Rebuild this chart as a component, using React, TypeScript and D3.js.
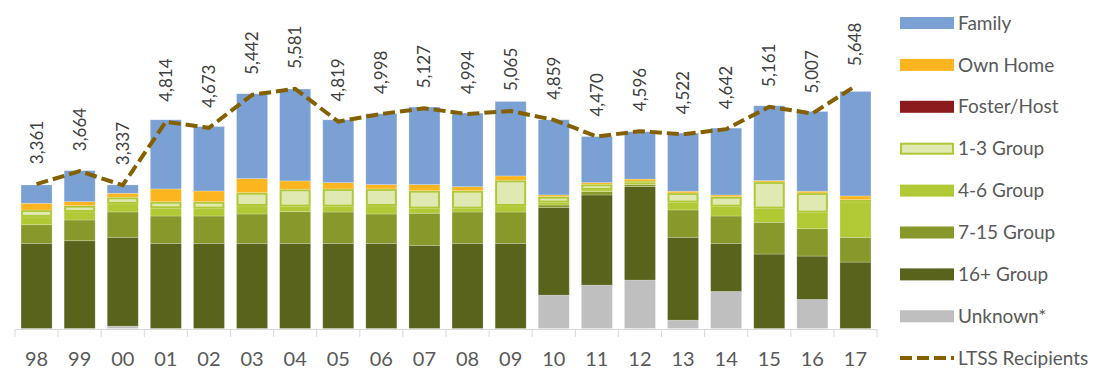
import React from "react";
import * as d3 from "d3";

const years = ["98","99","00","01","02","03","04","05","06","07","08","09","10","11","12","13","14","15","16","17"];
const unknown = [0, 0, 54, 0, 0, 0, 0, 0, 0, 0, 0, 0, 777, 1010, 1127, 194, 863, 0, 677, 0];
const group16 = [1983, 2044, 2070, 1983, 1983, 1983, 1983, 1983, 1983, 1937, 1983, 1983, 2037, 2100, 2177, 1930, 1120, 1734, 1010, 1547];
const group7to15 = [434, 483, 590, 637, 637, 684, 737, 730, 684, 747, 730, 730, 63, 77, 47, 637, 637, 740, 637, 576];
const group4to6 = [180, 187, 187, 180, 170, 187, 117, 124, 187, 107, 77, 140, 54, 40, 47, 170, 217, 317, 373, 824];
const group1to3 = [163, 147, 156, 154, 163, 310, 406, 413, 397, 420, 420, 600, 140, 133, 35, 226, 233, 623, 460, 54];
const fosterHost = [0, 0, 0, 0, 0, 0, 0, 0, 0, 0, 0, 0, 0, 0, 0, 0, 0, 0, 0, 0];
const ownHome = [156, 93, 93, 296, 250, 327, 194, 147, 100, 140, 93, 100, 40, 37, 47, 40, 40, 30, 40, 86];
const family = [427, 723, 194, 1610, 1500, 1976, 2140, 1463, 1650, 1806, 1713, 1734, 1750, 1073, 1104, 1353, 1556, 1743, 1857, 2434];
const ltss = [3361, 3664, 3337, 4814, 4673, 5442, 5581, 4819, 4998, 5127, 4994, 5065, 4859, 4470, 4596, 4522, 4642, 5161, 5007, 5648];

const seriesDefs = [
  { key: "unknown", label: "Unknown*", values: unknown, fill: "#BFBFBF" },
  { key: "g16", label: "16+ Group", values: group16, fill: "#59631C" },
  { key: "g7", label: "7-15 Group", values: group7to15, fill: "#88982A" },
  { key: "g4", label: "4-6 Group", values: group4to6, fill: "#B1C935" },
  { key: "g1", label: "1-3 Group", values: group1to3, fill: "#E0E9B1", stroke: "#AFC836" },
  { key: "foster", label: "Foster/Host", values: fosterHost, fill: "#8B1A1D" },
  { key: "own", label: "Own Home", values: ownHome, fill: "#FDB51F" },
  { key: "family", label: "Family", values: family, fill: "#7AA0D4" },
];

const FONT = "Lato, 'Open Sans', sans-serif";

export default function App() {
  const W = 1112, H = 380;
  const x = d3.scaleBand<string>().domain(years).range([15, 877]).paddingInner(0.28).paddingOuter(0.14);
  const y = d3.scaleLinear().domain([0, 7650]).range([328.5, 0]);

  const table = years.map((yr, i) => {
    const row: any = { year: yr };
    seriesDefs.forEach((s) => (row[s.key] = s.values[i]));
    return row;
  });
  const stack = d3.stack<any>().keys(seriesDefs.map((s) => s.key));
  const layers = stack(table);

  const step = x.step();
  const bw = x.bandwidth();
  const cx = (yr: string) => (x(yr) as number) + bw / 2;
  const line = d3.line<number>().x((_, i) => cx(years[i])).y((v) => y(v));

  const legendOrder = [...seriesDefs].reverse();
  const legendX = 900, legendY0 = 23, legendStep = 41.9;

  return (
    <svg width={W} height={H} style={{ position: "absolute", left: 0, top: 0, background: "#fff" }}>
      {layers.map((layer, li) => {
        const s = seriesDefs[li];
        return (
          <g key={s.key}>
            {layer.map((d, i) => {
              const h = y(d[0]) - y(d[1]);
              if (h <= 0) return null;
              const bx = x(years[i]) as number;
              const top = y(d[1]);
              if (s.stroke) {
                if (h < 4) {
                  return <rect key={i} x={bx} y={top} width={bw} height={h} fill={s.stroke} />;
                }
                return (
                  <rect key={i} x={bx + 1} y={top + 1} width={bw - 2} height={h - 2}
                    fill={s.fill} stroke={s.stroke} strokeWidth={2} />
                );
              }
              return (
                <rect key={i} x={bx} y={top} width={bw} height={h}
                  fill={s.fill} stroke="rgba(255,255,255,0.3)" strokeWidth={0.75} />
              );
            })}
          </g>
        );
      })}
      <line x1={15} x2={877} y1={329.5} y2={329.5} stroke="#D9D9D9" strokeWidth={1} />
      {d3.range(years.length + 1).map((i) => (
        <line key={i} x1={15 + i * step} x2={15 + i * step} y1={329.5} y2={337} stroke="#D9D9D9" strokeWidth={1} />
      ))}
      {years.map((yr) => (
        <text key={yr} x={cx(yr)} y={366} textAnchor="middle" fontFamily={FONT} fontSize={20} fill="#595959">{yr}</text>
      ))}
      <path d={line(ltss) || ""} fill="none" stroke="#846000" strokeWidth={4} strokeDasharray="12,5" />
      {ltss.map((v, i) => {
        const px = cx(years[i]);
        const py = y(v) - 20;
        return (
          <text key={i} transform={`translate(${px},${py}) rotate(-90)`} dy="0.35em" textAnchor="start"
            fontFamily={FONT} fontSize={17} fill="#404040">{d3.format(",")(v)}</text>
        );
      })}
      {legendOrder.map((s, i) => {
        const cy = legendY0 + i * legendStep;
        return (
          <g key={s.key}>
            {s.stroke ? (
              <rect x={legendX + 1} y={cy - 5} width={52} height={10} fill={s.fill} stroke={s.stroke} strokeWidth={2} />
            ) : (
              <rect x={legendX} y={cy - 6} width={54} height={12} fill={s.fill} />
            )}
            <text x={958} y={cy} dy="0.35em" fontFamily={FONT} fontSize={19} fill="#595959">{s.label}</text>
          </g>
        );
      })}
      <line x1={legendX} x2={954} y1={358} y2={358} stroke="#846000" strokeWidth={4} strokeDasharray="12,5" />
      <text x={958} y={358} dy="0.35em" fontFamily={FONT} fontSize={19} fill="#595959">LTSS Recipients</text>
    </svg>
  );
}
